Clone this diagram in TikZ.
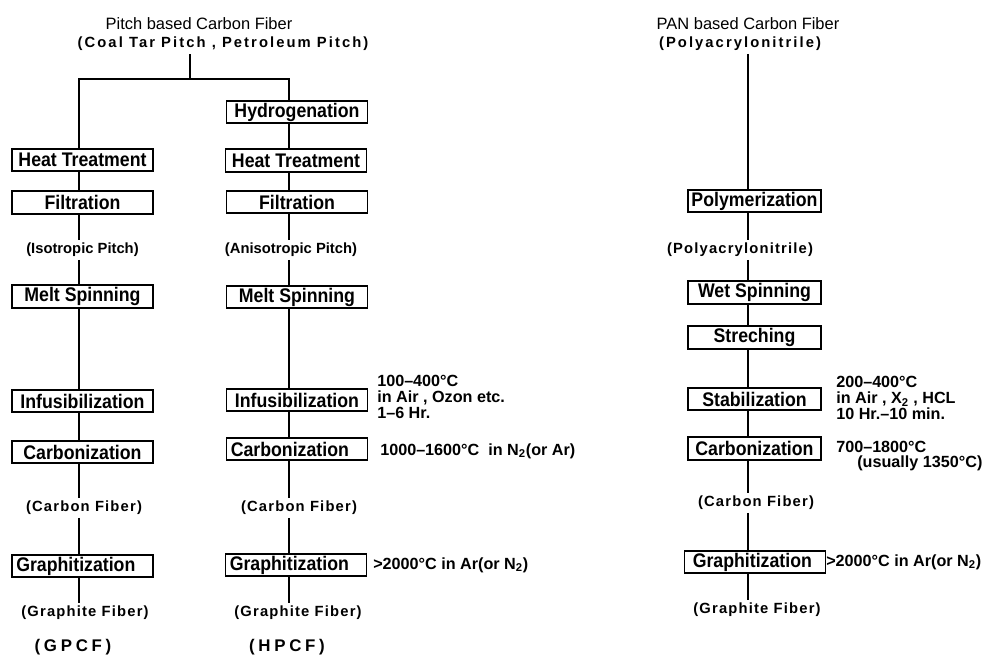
\documentclass[tikz,border=0pt]{standalone}
\usepackage{fontspec}
\setmainfont{Liberation Sans}
\newfontfamily\stagesans{Liberation Sans}[FakeStretch=0.9]
\newfontfamily\spacedsans{Liberation Sans}[LetterSpace=8]
\newfontfamily\subsans{Liberation Sans}[LetterSpace=14]
\newfontfamily\widesans{Liberation Sans}[LetterSpace=22]
\usetikzlibrary{positioning,calc}

\begin{document}
\begin{tikzpicture}[x=0.025cm, y=-0.025cm,
  stage/.style={draw, line width=1.3pt, minimum width=3.525cm, minimum height=0.56cm, inner sep=0pt,
    font=\stagesans\bfseries\fontsize{14}{16}\selectfont},
  lstage/.style={stage, inner xsep=3pt, text width=3.31cm, align=left},
  pstage/.style={stage, minimum width=3.325cm},
  plstage/.style={lstage, text width=3.11cm},
  matl/.style={inner sep=2pt, font=\spacedsans\bfseries\fontsize{10.5}{12}\selectfont},
  srcl/.style={inner sep=2pt, font=\subsans\bfseries\fontsize{10.5}{12}\selectfont},
  pitch/.style={inner sep=2pt, font=\bfseries\fontsize{10.5}{12}\selectfont},
  head/.style={inner sep=1pt, font=\fontsize{11.7}{14}\selectfont},
  tag/.style={inner sep=1pt, font=\widesans\bfseries\fontsize{12}{14}\selectfont},
  note/.style={anchor=west, align=left, inner sep=0pt, font=\bfseries\fontsize{11.5}{11.2}\selectfont},
  link/.style={line width=1pt}
]
  \useasboundingbox (0,0) rectangle (987,659);

  % column lines
  \coordinate (colA) at (79,0);
  \coordinate (colB) at (289,0);
  \coordinate (colC) at (748,0);
  \coordinate (pjoin) at (190,79);

  % pitch based
  \node[head] (ptitle) at (199,24) {Pitch based Carbon Fiber};
  \node[srcl] (psub) at (223,44) {(Coal Tar Pitch , Petroleum Pitch)};

  \node[stage] (heatA) at (82.5,160) {Heat Treatment};
  \node[stage] (filtA) at (82.5,202.5) {Filtration};
  \node[pitch] (isoA) at (82.5,250) {(Isotropic Pitch)};
  \node[stage] (meltA) at (82.5,296.5) {Melt Spinning};
  \node[stage] (infA) at (82.5,401) {Infusibilization};
  \node[stage] (carbA) at (82.5,452) {Carbonization};
  \node[matl] (cfA) at (84,508) {(Carbon Fiber)};
  \node[lstage] (graphA) at (82.5,566) {Graphitization};
  \node[matl] (gfA) at (85,613) {(Graphite Fiber)};
  \node[tag] (gpcf) at (73,647) {(GPCF)};

  \node[stage] (hydro) at (297,112) {Hydrogenation};
  \node[stage] (heatB) at (296,160.5) {Heat Treatment};
  \node[stage] (filtB) at (297,202) {Filtration};
  \node[pitch] (anisoB) at (291,250) {(Anisotropic Pitch)};
  \node[stage] (meltB) at (297,297) {Melt Spinning};
  \node[stage] (infB) at (297,400) {Infusibilization};
  \node[lstage] (carbB) at (297,449) {Carbonization};
  \node[matl] (cfB) at (299,508) {(Carbon Fiber)};
  \node[lstage] (graphB) at (296,565) {Graphitization};
  \node[matl] (gfB) at (298,613) {(Graphite Fiber)};
  \node[tag] (hpcf) at (287,647) {(HPCF)};

  \node[note] (noteInf) at (377,397) {100–400°C\\in Air , Ozon etc.\\1–6 Hr.};
  \node[note] (noteCarbB) at (380,451) {1000–1600°C\ \ in N\textsubscript{2}(or Ar)};
  \node[note] (noteGrB) at (373,565) {>2000°C in Ar(or N\textsubscript{2})};

  % PAN based
  \node[head] (pantitle) at (748,24) {PAN based Carbon Fiber};
  \node[srcl] (pansub) at (740,44) {(Polyacrylonitrile)};

  \node[pstage] (polyC) at (754.5,201) {Polymerization};
  \node[matl] (panC) at (740,250) {(Polyacrylonitrile)};
  \node[pstage] (wetC) at (754.5,292.5) {Wet Spinning};
  \node[pstage] (strC) at (754.5,337.5) {Streching};
  \node[pstage] (stabC) at (754.5,399) {Stabilization};
  \node[pstage] (carbC) at (754.5,448.5) {Carbonization};
  \node[matl] (cfC) at (756,503) {(Carbon Fiber)};
  \node[plstage] (graphC) at (755,562) {Graphitization};
  \node[matl] (gfC) at (757,610) {(Graphite Fiber)};

  \node[note] (noteStab) at (836,398) {200–400°C\\in Air , X\textsubscript{2} , HCL\\10 Hr.–10 min.};
  \node[note] (noteCarbC) at (836,456) {700–1800°C\\\hspace*{1.3em}(usually 1350°C)};
  \node[note] (noteGrC) at (826,562) {>2000°C in Ar(or N\textsubscript{2})};

  % connectors
  \draw[link] (pjoin) -- (pjoin |- psub.south);
  \draw[link] (heatA.north -| colA) |- (pjoin) -| (hydro.north -| colB);
  \draw[link] (pansub.south -| colC) -- (polyC.north -| colC);

  \foreach \a/\b in {heatA/filtA, filtA/isoA, isoA/meltA, meltA/infA, infA/carbA, carbA/cfA, cfA/graphA, graphA/gfA}
    \draw[link] (\a.south -| colA) -- (\b.north -| colA);
  \foreach \a/\b in {hydro/heatB, heatB/filtB, filtB/anisoB, anisoB/meltB, meltB/infB, infB/carbB, carbB/cfB, cfB/graphB, graphB/gfB}
    \draw[link] (\a.south -| colB) -- (\b.north -| colB);
  \foreach \a/\b in {polyC/panC, panC/wetC, wetC/strC, strC/stabC, stabC/carbC, carbC/cfC, cfC/graphC, graphC/gfC}
    \draw[link] (\a.south -| colC) -- (\b.north -| colC);
\end{tikzpicture}
\end{document}
